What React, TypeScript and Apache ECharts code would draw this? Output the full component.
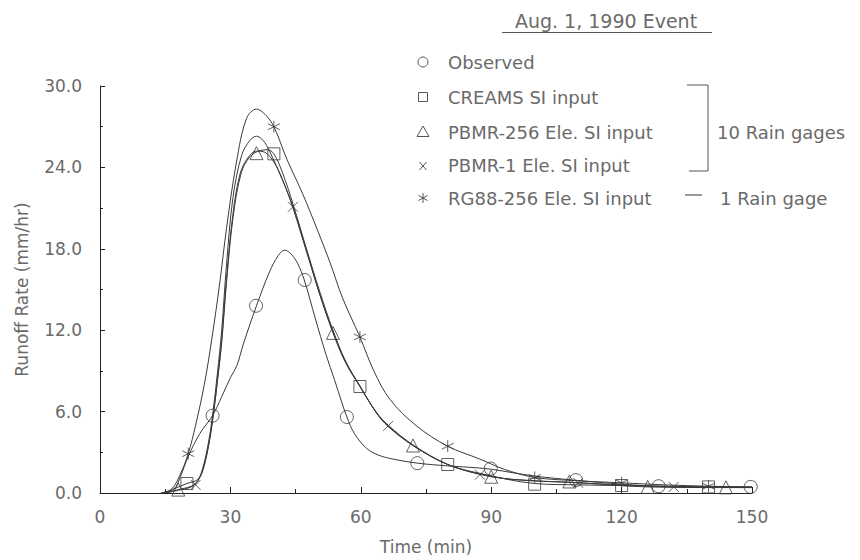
import React, { useEffect, useRef } from "react";
import * as echarts from "echarts";

// ---- Data (time in min, runoff rate in mm/hr) ----
const seriesNames = [
  "Observed",
  "CREAMS SI input",
  "PBMR-256 Ele. SI input",
  "PBMR-1 Ele. SI input",
  "RG88-256 Ele. SI input",
];
const titleText = "Aug. 1, 1990 Event";
const bracketText = "10 Rain gages";
const singleText = "1 Rain gage";
const xTickValues = [0, 30, 60, 90, 120, 150];
const yTickValues = [0, 6, 12, 18, 24, 30];

const observedCurve = [
  [14, 0], [17, 0.3], [18.5, 1.2], [20.3, 2.7], [23, 4.4], [25.9, 5.7], [28, 7.1], [30, 8.5],
  [31.5, 9.4], [33, 11.0], [36, 13.8], [39, 16.3], [41, 17.5], [42.5, 17.9], [44, 17.6],
  [45.5, 16.9], [47, 15.7], [49.5, 12.9], [52, 10.2], [54, 8.3], [55.5, 6.8], [56.8, 5.6],
  [58.5, 4.4], [61.3, 3.3], [64, 2.8], [67.4, 2.5], [73, 2.2], [80, 2.0], [87, 1.85],
  [90, 1.75], [100, 1.25], [109, 0.95], [120, 0.65], [128.5, 0.5], [140, 0.45], [150, 0.45],
];
const observedMarks = [
  [25.9, 5.7], [35.9, 13.8], [47.1, 15.7], [56.8, 5.6], [73, 2.2], [89.9, 1.8],
  [109.5, 0.95], [128.5, 0.5], [149.7, 0.45],
];

const creamsCurve = [
  [15, 0], [17, 0.3], [20, 0.7], [22.5, 1.0], [23.7, 1.8], [25, 3.6], [26, 5.6], [27, 8.2],
  [28, 11.1], [29.1, 15.5], [30.6, 20.3], [32.5, 23.6], [34.5, 24.8], [36.5, 25.2],
  [38.5, 25.3], [40, 25.0], [42, 23.6], [44.4, 21.3], [47.5, 18.0], [50.6, 14.8],
  [53.6, 12.0], [56.5, 9.7], [59.8, 7.85], [63.6, 5.95], [66.3, 5.0], [72, 3.55], [80, 2.1],
  [87.4, 1.45], [100, 0.7], [110, 0.6], [120, 0.55], [140, 0.45], [150, 0.42],
];
const creamsMarks = [
  [20, 0.7], [40, 25.0], [59.8, 7.85], [80, 2.1], [100, 0.65], [120, 0.55], [140, 0.45],
];

const pbmr256Curve = [
  [15, 0], [18, 0.25], [21, 0.5], [22.5, 0.9], [23.7, 1.7], [25, 3.5], [26, 5.6], [27, 8.3],
  [28, 11.3], [29.1, 15.8], [30.6, 20.6], [32.2, 23.5], [34, 24.7], [36, 25.2], [38, 25.1],
  [40, 24.4], [42, 23.1], [44.4, 21.0], [47.5, 17.8], [50.6, 14.6], [53.6, 11.8],
  [56.5, 9.6], [59.8, 7.85], [63.6, 5.9], [66.3, 4.9], [72, 3.5], [80, 2.1], [90, 1.2],
  [100, 0.9], [108, 0.8], [126, 0.45], [144, 0.4], [150, 0.4],
];
const pbmr256Marks = [
  [18, 0.25], [36, 25.05], [53.6, 11.8], [72, 3.5], [90, 1.2], [108, 0.85], [126, 0.45],
  [144, 0.42],
];

const pbmr1Curve = [
  [15, 0], [18, 0.2], [21, 0.45], [22.5, 0.9], [23.7, 1.9], [25, 3.8], [26, 6.0], [27, 8.8],
  [28, 12.0], [29.1, 16.8], [30.6, 21.8], [32.6, 24.9], [34.5, 26.0], [36, 26.3],
  [37.5, 26.0], [39, 25.2], [41, 23.8], [44.4, 21.1], [47.5, 17.9], [50.6, 14.6],
  [53.6, 11.9], [56.5, 9.7], [59.8, 7.9], [63.6, 5.9], [66.3, 4.95], [72, 3.5], [80, 2.1],
  [87.4, 1.4], [95, 1.0], [110, 0.75], [120, 0.6], [132, 0.45], [150, 0.4],
];
const pbmr1Marks = [
  [22, 0.6], [44.4, 21.1], [66.3, 4.95], [87.4, 1.35], [110, 0.75], [132, 0.45],
];

const rg88Curve = [
  [14, 0], [16.5, 0.3], [18.5, 1.4], [20.3, 2.9], [22, 5.0], [24, 8.0], [25.7, 11.3],
  [27.6, 15.6], [29.1, 19.5], [31.4, 24.4], [33.7, 27.6], [36, 28.3], [38, 27.9],
  [40, 27.0], [43, 24.6], [46.7, 22.0], [50, 19.4], [52.9, 17.0], [55.9, 14.3],
  [59.8, 11.5], [63, 9.0], [66.7, 6.9], [72.8, 4.95], [80, 3.45], [87.4, 2.5], [93, 1.75],
  [100, 1.15], [110, 0.9], [120, 0.75], [130, 0.6], [140, 0.5], [150, 0.45],
];
const rg88Marks = [
  [20.3, 2.9], [40, 27.0], [59.8, 11.5], [80, 3.45], [100, 1.15], [120, 0.75], [140, 0.5],
];

const FONT = '"DejaVu Sans", Verdana, sans-serif';
const LINE = "#3a3a3a";
const TEXT = "#6a6a6a";

const X_PATH = "path://M0,0 L10,10 M10,0 L0,10";
const AST_PATH = "path://M6,0 L6,12 M0.8,3 L11.2,9 M0.8,9 L11.2,3";

export default function App() {
  const ref = useRef<HTMLDivElement>(null);

  useEffect(() => {
    if (!ref.current) return;
    const chart = echarts.init(ref.current, null, { renderer: "svg" });

    const curves = [observedCurve, creamsCurve, pbmr256Curve, pbmr1Curve, rg88Curve];
    const marks = [observedMarks, creamsMarks, pbmr256Marks, pbmr1Marks, rg88Marks];
    const symbols = ["circle", "rect", "triangle", X_PATH, AST_PATH];
    const sizes = [13, 12, 13, 10, 12];

    const series: any[] = [];
    curves.forEach((c, i) => {
      series.push({
        type: "line",
        name: seriesNames[i],
        data: c,
        smooth: 0.35,
        showSymbol: false,
        silent: true,
        lineStyle: { color: LINE, width: 1 },
        z: 2,
      });
    });
    marks.forEach((m, i) => {
      series.push({
        type: "scatter",
        name: seriesNames[i] + " marks",
        data: m,
        symbol: symbols[i],
        symbolSize: sizes[i],
        itemStyle: { color: "transparent", borderColor: LINE, borderWidth: 1 },
        z: 3,
      });
    });

    const lx = 423;
    const tx = 448;
    const rows = [62, 97, 132, 165, 198];
    const st = { fill: "none", stroke: "#555", lineWidth: 1 };
    const legendGraphics: any[] = [
      { type: "circle", shape: { cx: lx, cy: rows[0], r: 5 }, style: st },
      { type: "rect", shape: { x: lx - 4.5, y: rows[1] - 4.5, width: 9, height: 9 }, style: st },
      {
        type: "polygon",
        shape: { points: [[lx, rows[2] - 6], [lx - 6, rows[2] + 4.5], [lx + 6, rows[2] + 4.5]] },
        style: st,
      },
      { type: "line", shape: { x1: lx - 3.5, y1: rows[3] - 3, x2: lx + 3.5, y2: rows[3] + 5 }, style: st },
      { type: "line", shape: { x1: lx - 3.5, y1: rows[3] + 5, x2: lx + 3.5, y2: rows[3] - 3 }, style: st },
      { type: "line", shape: { x1: lx, y1: rows[4] - 5, x2: lx, y2: rows[4] + 5 }, style: st },
      { type: "line", shape: { x1: lx - 4.5, y1: rows[4] - 2.5, x2: lx + 4.5, y2: rows[4] + 2.5 }, style: st },
      { type: "line", shape: { x1: lx - 4.5, y1: rows[4] + 2.5, x2: lx + 4.5, y2: rows[4] - 2.5 }, style: st },
    ];
    seriesNames.forEach((n, i) => {
      legendGraphics.push({
        type: "text",
        x: tx,
        y: rows[i],
        style: { text: n, font: `18px ${FONT}`, fill: TEXT, align: "left", verticalAlign: "middle" },
      });
    });
    // bracket for 10 rain gages
    legendGraphics.push(
      { type: "polyline", shape: { points: [[687, 85], [708, 85], [708, 171], [689, 171]] }, style: { fill: "none", stroke: "#555", lineWidth: 1 } },
      {
        type: "text", x: 717, y: rows[2],
        style: { text: bracketText, font: `18px ${FONT}`, fill: TEXT, align: "left", verticalAlign: "middle" },
      },
      { type: "line", shape: { x1: 685, y1: 195, x2: 702, y2: 195 }, style: { stroke: "#555", lineWidth: 1.2 } },
      {
        type: "text", x: 720, y: rows[4],
        style: { text: singleText, font: `18px ${FONT}`, fill: TEXT, align: "left", verticalAlign: "middle" },
      },
      {
        type: "text", x: 606, y: 21,
        style: { text: titleText, font: `19px ${FONT}`, fill: TEXT, align: "center", verticalAlign: "middle" },
      },
      { type: "line", shape: { x1: 502, y1: 32.5, x2: 712, y2: 32.5 }, style: { stroke: "#555", lineWidth: 1 } }
    );

    chart.setOption({
      animation: false,
      backgroundColor: "#ffffff",
      grid: { left: 100, right: 108, top: 86, bottom: 66, containLabel: false },
      xAxis: {
        type: "value",
        min: xTickValues[0],
        max: xTickValues[xTickValues.length - 1],
        interval: 30,
        name: "Time (min)",
        nameLocation: "middle",
        nameGap: 45,
        nameTextStyle: { fontFamily: FONT, fontSize: 17, color: TEXT },
        axisLine: { show: true, lineStyle: { color: "#222", width: 1 } },
        axisTick: { show: true, inside: true, length: 6, lineStyle: { color: "#222" } },
        minorTick: { show: true, splitNumber: 2, length: 4, lineStyle: { color: "#222" } },
        axisLabel: { fontFamily: FONT, fontSize: 17, color: TEXT, margin: 15 },
        splitLine: { show: false },
      },
      yAxis: {
        type: "value",
        min: yTickValues[0],
        max: yTickValues[yTickValues.length - 1],
        interval: 6,
        name: "Runoff Rate (mm/hr)",
        nameLocation: "middle",
        nameRotate: 90,
        nameGap: 70,
        nameTextStyle: { fontFamily: FONT, fontSize: 17, color: TEXT },
        axisLine: { show: true, lineStyle: { color: "#222", width: 1 } },
        axisTick: { show: true, inside: true, length: 5, lineStyle: { color: "#222" } },
        minorTick: { show: true, splitNumber: 2, length: 3, lineStyle: { color: "#222" } },
        axisLabel: {
          fontFamily: FONT,
          fontSize: 17,
          color: TEXT,
          margin: 18,
          formatter: (v: number) => v.toFixed(1),
        },
        splitLine: { show: false },
      },
      series,
      graphic: legendGraphics,
    });

    return () => chart.dispose();
  }, []);

  return <div ref={ref} style={{ width: 860, height: 560, position: "absolute", left: 0, top: 0 }} />;
}
